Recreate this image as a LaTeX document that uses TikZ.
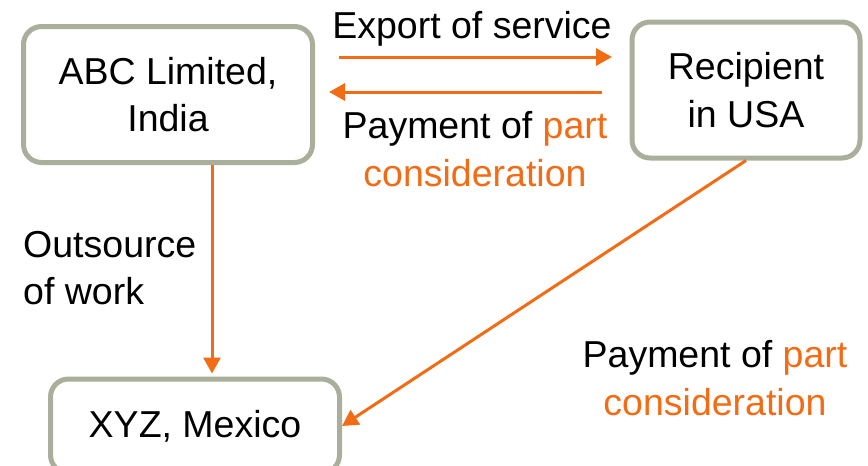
\documentclass[tikz,border=0pt]{standalone}
\usepackage{fontspec}
\setmainfont{Liberation Sans}
\usepackage{xcolor}
\usetikzlibrary{arrows.meta}
\definecolor{flowcol}{RGB}{242,108,22}
\definecolor{boxcol}{RGB}{170,175,156}
\tikzset{
  party/.style={ % rounded box of one party of the deal
    draw=boxcol, line width=5pt, rounded corners=18pt,
    fill=white, text=black, align=center,
    minimum width=289pt, minimum height=136pt, inner sep=0pt
  },
  flow/.style={ % orange arrow from one party to another
    draw=flowcol, line width=3pt,
    -{Triangle[length=16pt,width=17pt]}
  },
  lbl/.style={ % text beside an arrow
    align=center, inner sep=0pt, text=black
  }
}
\newcommand{\hl}[1]{{\color{flowcol}#1}}

\begin{document}
\begin{tikzpicture}[x=1pt, y=-1pt, font=\fontsize{37.5}{47.5}\selectfont]
  \useasboundingbox (0,0) rectangle (868,466);

  \node[party] (abc) at (168,94.5) {ABC Limited,\\India};
  \node[party, minimum width=228pt] (rcp) at (746,90) {Recipient\\in USA};
  \node[party, minimum height=94pt] (xyz) at (195,426) {XYZ, Mexico};

  \coordinate (expS) at (339,57);
  \coordinate (expE) at (612,57);
  \coordinate (payS) at (602,92);
  \coordinate (payE) at (329,92);
  \coordinate (drop) at (212,0);

  \draw[flow] (expS) -- (expE);
  \draw[flow] (payS) -- (payE);
  \draw[flow, shorten >=3pt] (abc.south -| drop) -- (xyz.north -| drop);
  \draw[flow] (rcp.south) -- (xyz.east);

  \node[lbl] (export) at (472,29) {Export of service};
  \node[lbl] (payback) at (475,149) {Payment of \hl{part}\\\hl{consideration}};
  \node[lbl, anchor=west, align=left] (outsrc) at (23,268) {Outsource\\of work};
  \node[lbl] (paydiag) at (715,378) {Payment of \hl{part}\\\hl{consideration}};
\end{tikzpicture}
\end{document}
